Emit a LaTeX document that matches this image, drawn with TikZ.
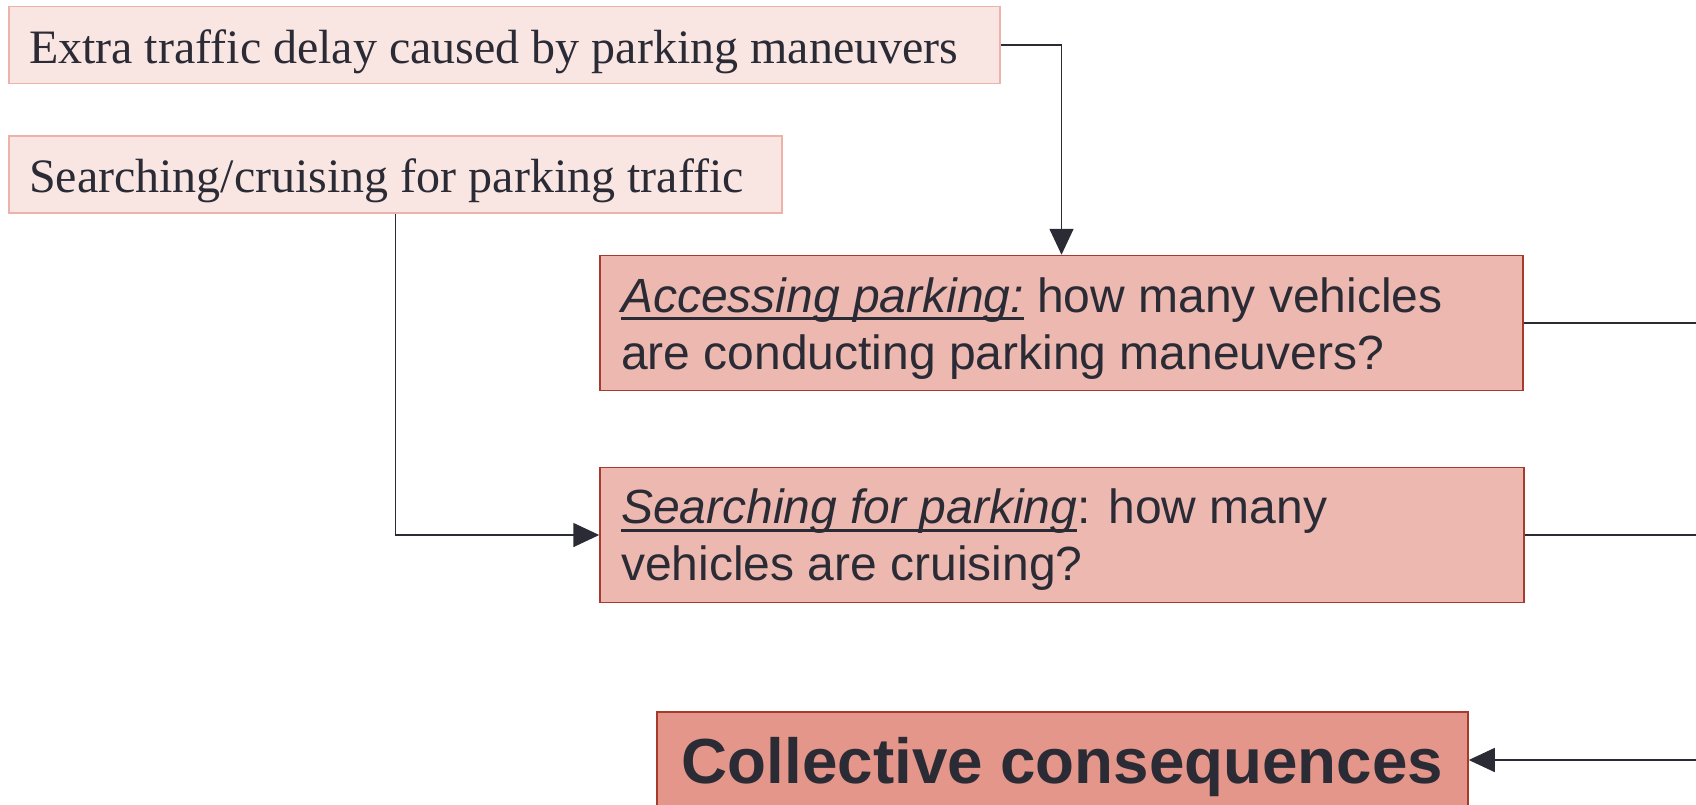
\documentclass[tikz,border=0pt]{standalone}
\usepackage{fontspec}
\setmainfont{Liberation Serif}
\newfontfamily\sansf{Liberation Sans}
\usetikzlibrary{arrows.meta}
\definecolor{ink}{HTML}{2B2B36}
\definecolor{paleFill}{HTML}{F9E6E3}
\definecolor{paleEdge}{HTML}{EDB3AA}
\definecolor{midFill}{HTML}{ECB8B0}
\definecolor{darkEdge}{HTML}{A63A2C}
\definecolor{strongFill}{HTML}{E39689}
% underline drawn as a rule sized to the text
\newsavebox\ulbox
\newcommand\ultext[1]{\sbox\ulbox{#1}\rlap{\rule[-0.173em]{\wd\ulbox}{0.069em}}\usebox\ulbox}
% invisible strut that sets the height of a first line
\newcommand\liftline[1]{\rule{0pt}{#1}}

\begin{document}
\begin{tikzpicture}[x=1pt,y=-1pt,
  base/.style={draw, line width=1.5pt, text=ink, inner sep=0pt, align=flush left, anchor=center},
  factor/.style={base, fill=paleFill, draw=paleEdge, font=\fontsize{48}{57}\selectfont},
  question/.style={base, fill=midFill, draw=darkEdge, font=\sansf\fontsize{48}{57}\selectfont},
  outcome/.style={base, fill=strongFill, draw=darkEdge, align=flush center, font=\sansf\bfseries\fontsize{63.7}{76}\selectfont},
  link/.style={draw=ink, line width=1.6pt},
  arrowlink/.style={link, -{Triangle[length=26pt,width=24pt]}}]
\useasboundingbox (0,0) rectangle (1696,804);

% contributing factors
\node[factor, minimum width=991pt, minimum height=77pt, text width=951pt] (b1) at (504.5,45)
  {\liftline{47pt}Extra traffic delay caused by parking maneuvers};
\node[factor, minimum width=773pt, minimum height=77pt, text width=733pt] (b2) at (395.5,174.5)
  {\liftline{47pt}Searching/cruising for parking traffic};

% questions
\node[question, minimum width=923pt, minimum height=135pt, text width=881pt] (b3) at (1061.5,323)
  {\liftline{45pt}\ultext{\textit{Accessing parking:}} how many vehicles\\are conducting parking maneuvers?};
\node[question, minimum width=924pt, minimum height=135pt, text width=882pt] (b4) at (1062,535)
  {\liftline{44pt}\ultext{\textit{Searching for parking}}: how many\\vehicles are cruising?};

% outcome
\node[outcome, minimum width=811pt, minimum height=96pt, text width=771pt] (b5) at (1062.5,760)
  {\liftline{61pt}Collective consequences};

% connectors leaving to the right
\coordinate (e3) at (1696,323);
\coordinate (e4) at (1696,535);
\coordinate (e5) at (1696,760);

\draw[link] (b3.east) -- (e3);
\draw[link] (b4.east) -- (e4);
\draw[arrowlink] (e5) -- (b5.east);
\draw[arrowlink] (b1.east) -| (b3.north);
\draw[arrowlink] (b2.south) |- (b4.west);
\end{tikzpicture}
\end{document}
